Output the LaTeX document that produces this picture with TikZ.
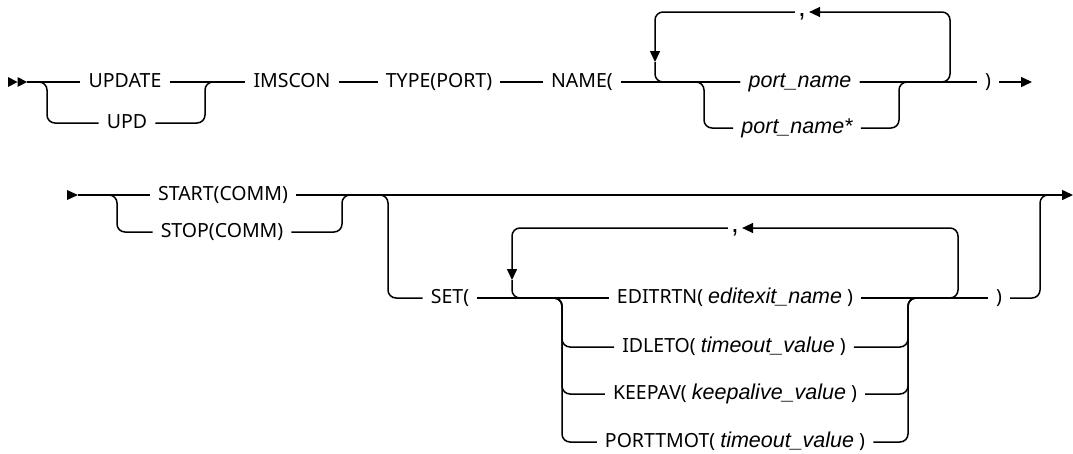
\documentclass[tikz,border=0pt]{standalone}
\usepackage{fontspec}
\setmainfont{Noto Sans}
\newfontfamily\varfont{Liberation Sans}
\usetikzlibrary{arrows.meta,calc}
\newcommand{\va}[1]{{\varfont\fontsize{21.5}{24}\selectfont\itshape #1}}
\begin{document}
\begin{tikzpicture}[x=1pt,y=-1pt,
  rail/.style={line width=1.5pt, rounded corners=8pt},
  tip/.style={-{Triangle[length=11pt,width=10pt]}},
  kw/.style={font=\fontsize{19.5}{22}\selectfont, inner xsep=8pt, inner ysep=0pt, text height=10pt, text depth=0pt, anchor=center},
  commanode/.style={font=\varfont\fontsize{28}{30}\selectfont, inner xsep=3pt, inner ysep=0pt, anchor=base},
]
\useasboundingbox (0,0) rectangle (1073,453);

% ---------- Row 1 ----------
\node[kw] (update) at (125,82) {UPDATE};
\node[kw] (upd) at (127,123) {UPD};
\node[kw] (imscon) at (292,82) {IMSCON};
\node[kw] (type) at (439,82) {TYPE(PORT)};
\node[kw] (name) at (582,82) {NAME(};
\node[kw] (pn) at (800,82) {\va{port\_name}};
\node[kw] (pns) at (797,128) {\va{port\_name*}};
\node[kw] (rp1) at (988,82) {)};
\node[commanode] (c1) at (802,16) {,};

\coordinate (s1) at (27,82);
\coordinate (a1) at (47,82);
\coordinate (a2) at (205,82);
\coordinate (a2r) at (216,82);
\coordinate (b1) at (704,82);
\coordinate (b2) at (899,82);
\coordinate (b2r) at (910,82);
\coordinate (l1top) at (950,12);
\coordinate (l1d) at (655,62);
\coordinate (e1) at (1032,82);

\fill (8,77) -- (17.5,82) -- (8,87) -- cycle;
\fill (17.5,77) -- (27,82) -- (17.5,87) -- cycle;

\draw[rail] (s1) -- (update.west);
\draw[rail] (s1) -- (a1) |- (upd.west);
\draw[rail] (upd.east) -| (a2) -- (a2r);
\draw[rail] (update.east) -- (imscon.west);
\draw[rail] (imscon.east) -- (type.west);
\draw[rail] (type.east) -- (name.west);
\draw[rail] (name.east) -- (pn.west);
\draw[rail] (name.east) -- (b1) |- (pns.west);
\draw[rail] (pns.east) -| (b2) -- (b2r);
\draw[rail] (pn.east) -- (rp1.west);
\draw[rail,tip] (rp1.east) -- (e1);
\draw[rail,tip] (pn.east) -| (l1top) -- (c1.east |- l1top);
\draw[rail,tip] (c1.west |- l1top) -| (l1d);
\draw[rail] (l1d) |- (pn.west);

% ---------- Row 2 ----------
\node[kw] (start) at (223,195) {START(COMM)};
\node[kw] (stop) at (222,232) {STOP(COMM)};
\node[kw] (set) at (450,298) {SET(};
\node[kw] (edit) at (735,298) {EDITRTN( \va{editexit\_name} )};
\node[kw] (idle) at (734,347) {IDLETO( \va{timeout\_value} )};
\node[kw] (keep) at (735,394) {KEEPAV( \va{keepalive\_value} )};
\node[kw] (port) at (735,442) {PORTTMOT( \va{timeout\_value} )};
\node[kw] (rp2) at (999,298) {)};
\node[commanode] (c2) at (735,232) {,};

\coordinate (s2) at (78,195);
\coordinate (d1) at (117,195);
\coordinate (d2) at (342,195);
\coordinate (d2r) at (353,195);
\coordinate (d3l) at (375,195);
\coordinate (d3) at (388,195);
\coordinate (o1) at (562,298);
\coordinate (o2) at (908,298);
\coordinate (o2r) at (919,298);
\coordinate (l2top) at (958,228);
\coordinate (l2d) at (512,280);
\coordinate (d4) at (1040,195);
\coordinate (d4r) at (1051,195);
\coordinate (e2) at (1073,195);

\fill (67,190) -- (78,195) -- (67,200) -- cycle;

\draw[rail] (s2) -- (start.west);
\draw[rail] (s2) -- (d1) |- (stop.west);
\draw[rail] (stop.east) -| (d2) -- (d2r);
\draw[rail,tip] (start.east) -- (e2);
\draw[rail] (d3l) -- (d3) |- (set.west);
\draw[rail] (set.east) -- (edit.west);
\draw[rail] (set.east) -- (o1) |- (idle.west);
\draw[rail] (set.east) -- (o1) |- (keep.west);
\draw[rail] (set.east) -- (o1) |- (port.west);
\draw[rail] (idle.east) -| (o2) -- (o2r);
\draw[rail] (keep.east) -| (o2) -- (o2r);
\draw[rail] (port.east) -| (o2) -- (o2r);
\draw[rail] (edit.east) -- (rp2.west);
\draw[rail,tip] (edit.east) -| (l2top) -- (c2.east |- l2top);
\draw[rail,tip] (c2.west |- l2top) -| (l2d);
\draw[rail] (l2d) |- (edit.west);
\draw[rail] (rp2.east) -| (d4) -- (d4r);
\end{tikzpicture}
\end{document}
